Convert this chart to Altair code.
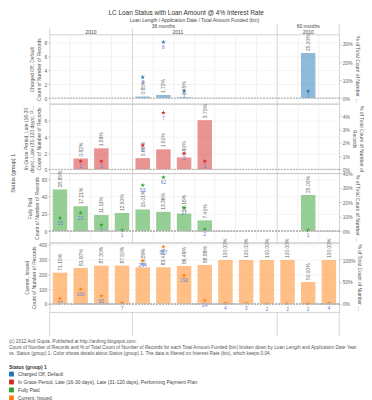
import altair as alt
import pandas as pd

# ---------------- data ----------------
cats = ["36|2010|$0", "36|2010|$5,000", "36|2010|$10,000", "36|2010|$15,000",
        "36|2011|$0", "36|2011|$5,000", "36|2011|$10,000", "36|2011|$15,000",
        "36|2011|$20,000", "36|2011|$25,000", "36|2011|$30,000",
        "60|2010|$0", "60|2010|$5,000", "60|2010|$10,000"]

statuses = ["Charged Off, Default",
            "In Grace Period, Late (16-30 days), Late (31-120 days), Performing Payment Plan",
            "Fully Paid",
            "Current, Issued"]
status_colors = ["#1f77b4", "#d62728", "#2ca02c", "#ff7f0e"]

charged = [0, 0, 0, 0, 3, 8, 1, 0, 0, 0, 0, 0, 1, 0]
late = [0, 1, 1, 0, 3, 7, 2, 1, 0, 0, 0, 0, 0, 0]
paid = [15, 21, 7, 1, 53, 62, 27, 2, 0, 0, 0, 0, 1, 0]
current = [37, 100, 55, 7, 294, 387, 192, 24, 4, 3, 2, 2, 2, 4]

left_titles = [["Charged Off, Default", "Count of Number of Records"],
               ["In Grace Period, Late (16-30", "days), Late (31-120 days), Perf..", "Count of Number of Records"],
               ["Fully Paid", "Count of Number of Records"],
               ["Current, Issued", "Count of Number of Records"]]
right_titles = ["% of Total Count of Number of Records",
                ["% of Total Count of Number of", "Records"],
                "% of Total Count of Number of Records",
                "% of Total Count of Number of Records"]
count_domains = [[-0.8, 9.1], [-0.47, 8.1], [-13.3, 66.7], [-55, 414]]
count_ticks = [[0, 2, 4, 6, 8], [0, 2, 4, 6], [0, 20, 40, 60], [0, 100, 200, 300, 400]]
pct_domains = [[-0.032, 0.353], [-0.0029, 0.0493], [-0.08, 0.40], [-0.186, 1.395]]
pct_ticks = [[0, 0.1, 0.2, 0.3], [0, 0.01, 0.02, 0.03, 0.04], [0, 0.1, 0.2, 0.3, 0.4], [0, 0.5, 1]]

footer_lines = ["(c) 2012 Anil Gupta. Published at http://anilnrg.blogspot.com.",
                "Count of Number of Records and % of Total Count of Number of Records for each Total Amount Funded (bin) broken down by Loan Length and Application Date Year",
                "vs. Status (group) 1. Color shows details about Status (group) 1. The data is filtered on Interest Rate (bin), which keeps 0.04."]

# ---------------- tables ----------------
records = []
for s, vals in zip(statuses, [charged, late, paid, current]):
    for c, v in zip(cats, vals):
        if v > 0:
            records.append({"status": s, "cat": c, "count": v})
df = pd.DataFrame(records)
edge_df = pd.DataFrame({"cat": ["36|2010|$0", "36|2011|$0", "60|2010|$0"]})
right_df = pd.DataFrame({"cat": [cats[-1]]})

W = 292
H = 70
HH = 17
STEP = W / len(cats)
FONT = "Liberation Sans"
SEP = "#c4c4c4"
STAR = ("M0,-1L0.2245,-0.309L0.9511,-0.309L0.3633,0.118L0.5878,0.809L0,0.382"
        "L-0.5878,0.809L-0.3633,0.118L-0.9511,-0.309L-0.2245,-0.309Z")
xscale = alt.Scale(domain=cats, paddingInner=0, paddingOuter=0)
color_scale = alt.Scale(domain=statuses, range=status_colors)

sep_test = "datum.value == '36|2011|$0' || datum.value == '60|2010|$0'"
grid_color = {"condition": {"test": sep_test, "value": SEP}, "value": "#ececec"}

legend = alt.Legend(title="Status (group) 1", orient="none", legendX=-41, legendY=350,
                    direction="vertical", symbolType="square", symbolSize=24, titleFontWeight="bold",
                    titleColor="#333", labelColor="#444", rowPadding=2, titlePadding=2,
                    symbolStrokeWidth=0)


def xaxis(last):
    if last:
        return alt.Axis(bandPosition=0, grid=True, gridColor=grid_color, gridWidth=0.7,
                        labelAngle=90, labelExpr="split(datum.label, '|')[2]", labelFontSize=5,
                        labelColor="#555", labelOffset=STEP / 2, ticks=False, domain=False,
                        labelPadding=3, title=None)
    return alt.Axis(bandPosition=0, grid=True, gridColor=grid_color, gridWidth=0.7,
                    labels=False, ticks=False, domain=False, title=None)


def vline(d, bp, y1, y2):
    return alt.Chart(d).mark_rule(color=SEP, strokeWidth=0.7).encode(
        x=alt.X("cat:N", scale=xscale, bandPosition=bp, axis=None),
        y=alt.value(y1), y2=alt.value(y2))


def note(text, y):
    return alt.Chart(pd.DataFrame({"t": [text]})).mark_text(
        align="left", baseline="top", fontSize=4.8, color="#555", limit=362).encode(
        x=alt.value(-41), y=alt.value(y), text="t:N")


def make_row(i):
    s = statuses[i]
    base = (alt.Chart(df)
            .transform_joinaggregate(total="sum(count)", groupby=["cat"])
            .transform_calculate(pct="datum.count / datum.total", zero="0")
            .transform_filter(alt.datum.status == s))
    x = alt.X("cat:N", scale=xscale, title=None, axis=xaxis(i == 3))
    ycount = alt.Y("count:Q", scale=alt.Scale(domain=count_domains[i], nice=False, zero=False),
                   axis=alt.Axis(orient="left", values=count_ticks[i], grid=True, title=left_titles[i],
                                 titleLimit=H, titlePadding=2, labelPadding=1))
    ypct = alt.Y("pct:Q", scale=alt.Scale(domain=pct_domains[i], nice=False, zero=False),
                 axis=alt.Axis(orient="right", values=pct_ticks[i], format=".0%", grid=False,
                               title=right_titles[i], titleLimit=H, titlePadding=2, labelPadding=1))

    bars = base.mark_bar(size=STEP * 0.7, color=status_colors[i], opacity=0.5).encode(
        x=x, y=ypct, y2="zero:Q")
    pct_text = base.mark_text(angle=270, align="left", baseline="middle", dx=2, fontSize=5,
                              color="#666").encode(x=x, y=ypct, text=alt.Text("pct:Q", format=".2%"))

    zero = base.mark_rule(color="#b8b8b8", strokeDash=[1.5, 1.5], strokeWidth=0.7).encode(
        y=alt.Y("zero:Q", scale=alt.Scale(domain=count_domains[i], nice=False, zero=False), axis=None))
    stars = base.mark_point(shape=STAR, filled=True, size=24, opacity=1).encode(
        x=x, y=ycount, color=alt.Color("status:N", scale=color_scale, legend=legend))
    cnt_text = base.mark_text(baseline="top", dy=3, fontSize=5, color="#5f7fd6").encode(
        x=x, y=ycount, text="count:Q")

    layers = [alt.layer(bars, pct_text), alt.layer(stars, cnt_text), zero]
    if i == 1:
        lab = alt.Chart(pd.DataFrame({"t": ["Status (group) 1"]})).mark_text(
            angle=270, fontSize=5.5, color="#444", baseline="middle", align="center").encode(
            x=alt.value(-37), y=alt.value(H), text="t:N")
        layers.append(lab)
    if i == 3:
        layers += [vline(edge_df, 0, H, H + 24), vline(right_df, 1, H, H + 24)]
        layers += [note(t, H + 27 + 6 * k) for k, t in enumerate(footer_lines)]
    return alt.layer(*layers).resolve_scale(y="independent").properties(width=W, height=H)


# ---------------- header ----------------
hdr_mid = pd.DataFrame({"label": ["Loan Length  /  Application Date  /  Total Amount Funded (bin)"],
                        "cat": ["36|2011|$15,000"]})
hdr_months = pd.DataFrame({"label": ["36 months", "60 months"], "cat": ["36|2011|$5,000", "60|2010|$5,000"]})
hdr_years_c = pd.DataFrame({"label": ["2010"], "cat": ["60|2010|$5,000"]})
hdr_years_2011 = pd.DataFrame({"label": ["2011"], "cat": ["36|2011|$10,000"]})
hdr_years_b = pd.DataFrame({"label": ["2010"], "cat": ["36|2010|$10,000"]})


def htext(d, y, bp):
    return alt.Chart(d).mark_text(fontSize=5, color="#444", baseline="middle").encode(
        x=alt.X("cat:N", scale=xscale, bandPosition=bp, axis=None), y=alt.value(y), text="label:N")


header = alt.layer(
    htext(hdr_mid, 2.5, 0.0),
    htext(hdr_months, 8.5, 0.5),
    htext(hdr_years_c, 14.5, 0.5),
    htext(hdr_years_2011, 14.5, 0.2),
    htext(hdr_years_b, 14.5, 0.0),
    vline(pd.DataFrame({"cat": ["36|2010|$0", "36|2011|$0"]}), 0, 11, HH),
    vline(pd.DataFrame({"cat": ["60|2010|$0"]}), 0, 6, HH),
    vline(right_df, 1, 6, HH),
).properties(width=W, height=HH, view=alt.ViewBackground(stroke=None))

chart = alt.vconcat(header, *[make_row(i) for i in range(4)], spacing=0, bounds="flush").properties(
    title=alt.TitleParams("LC Loan Status with Loan Amount @ 4% Interest Rate", fontSize=6.5,
                          fontWeight="normal", color="#333", anchor="middle", offset=1),
    padding=0,
).configure_axis(
    labelFont=FONT, titleFont=FONT, labelFontSize=5, titleFontSize=5, labelColor="#666",
    titleColor="#555", titleFontWeight="normal", tickColor="#ccc", tickSize=2, domain=False,
    gridColor="#eeeeee", gridWidth=0.6
).configure_view(stroke="#c8c8c8", strokeWidth=0.8).configure_text(font=FONT).configure_title(
    font=FONT).configure_legend(
    labelFont=FONT, titleFont=FONT, labelFontSize=5, titleFontSize=5, labelLimit=360)

chart.save("out.html", embed_options={"renderer": "svg", "actions": False})
